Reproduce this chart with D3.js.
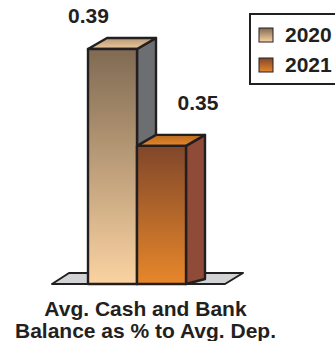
<!DOCTYPE html>
<html><head><meta charset="utf-8">
<script src="https://cdn.jsdelivr.net/npm/d3@7/dist/d3.min.js"></script>
<style>html,body{margin:0;padding:0;background:#fff}svg{display:block}text{font-family:"Liberation Sans",Arial,sans-serif;font-weight:bold;fill:#231f20}</style>
</head><body><svg id="c" width="335" height="341"></svg>
<script>
const categories = ["2020","2021"];
const values = [0.39,0.35];
const labels = ["0.39","0.35"];
const axisLines = ["Avg. Cash and Bank","Balance as % to Avg. Dep."];
const gradientStops = [["#7f6a52","#fbd3a2"],["#80472a","#e8872a"]];
const topColors = [["#b49a78","#eec99c"],["#b86a22","#e8872a"]];
const sideColors = ["#6d6e71","#8f4a38"];

const W=335,H=341,dx=19,dy=11,ink="#231f20";
const svg=d3.select("#c");
const y=d3.scaleLinear().domain([0.293,0.39]).range([284,49]);
const x=d3.scaleBand().domain(categories).range([88,186]).padding(0);
const defs=svg.append("defs");
const grad=(id,c)=>{const g=defs.append("linearGradient").attr("id",id)
  .attr("x1",0).attr("y1",0).attr("x2",0).attr("y2",1);
  g.append("stop").attr("offset",0).attr("stop-color",c[0]);
  g.append("stop").attr("offset",1).attr("stop-color",c[1]);};
categories.forEach((c,i)=>{grad("f"+i,gradientStops[i]);grad("t"+i,topColors[i]);});
const poly=p=>p.map(d=>d.join(",")).join(" ");
const base=y.range()[0];

svg.append("polygon").attr("points",poly([[52,base],[69,base-11],[243,base-11],[225,base]]))
  .attr("fill","#d1d3d4").attr("stroke",ink).attr("stroke-width",2).attr("stroke-linejoin","round");

categories.forEach((c,i)=>{
  const x0=x(c),x1=x0+x.bandwidth(),t=y(values[i]);
  const g=svg.append("g").attr("stroke",ink).attr("stroke-width",2.4).attr("stroke-linejoin","round");
  g.append("polygon").attr("points",poly([[x1,t],[x1+dx,t-dy],[x1+dx,base-dy+(i==1?6:0)],[x1,base]])).attr("fill",sideColors[i]);
  g.append("polygon").attr("points",poly([[x0,t],[x0+dx,t-dy],[x1+dx,t-dy],[x1,t]])).attr("fill",`url(#t${i})`);
  g.append("rect").attr("x",x0).attr("y",t).attr("width",x.bandwidth()).attr("height",base-t).attr("fill",`url(#f${i})`);
});

const labelX=[88.5,198];
labels.forEach((l,i)=>svg.append("text").attr("x",labelX[i]).attr("y",y(values[i])-(i?36:26))
  .attr("text-anchor","middle").attr("font-size",21).text(l));

axisLines.forEach((l,i)=>svg.append("text").attr("x",145.5).attr("y",316+i*22)
  .attr("text-anchor","middle").attr("font-size",21).text(l));

svg.append("rect").attr("x",250).attr("y",14).attr("width",100).attr("height",70)
  .attr("fill","#fff").attr("stroke",ink).attr("stroke-width",2);
categories.forEach((c,i)=>{
  const sy=28+i*30;
  svg.append("rect").attr("x",259).attr("y",sy).attr("width",14).attr("height",14)
    .attr("fill",`url(#f${i})`).attr("stroke",ink).attr("stroke-width",1);
  svg.append("text").attr("x",285).attr("y",sy+14).attr("font-size",21).text(c);
});
</script></body></html>
